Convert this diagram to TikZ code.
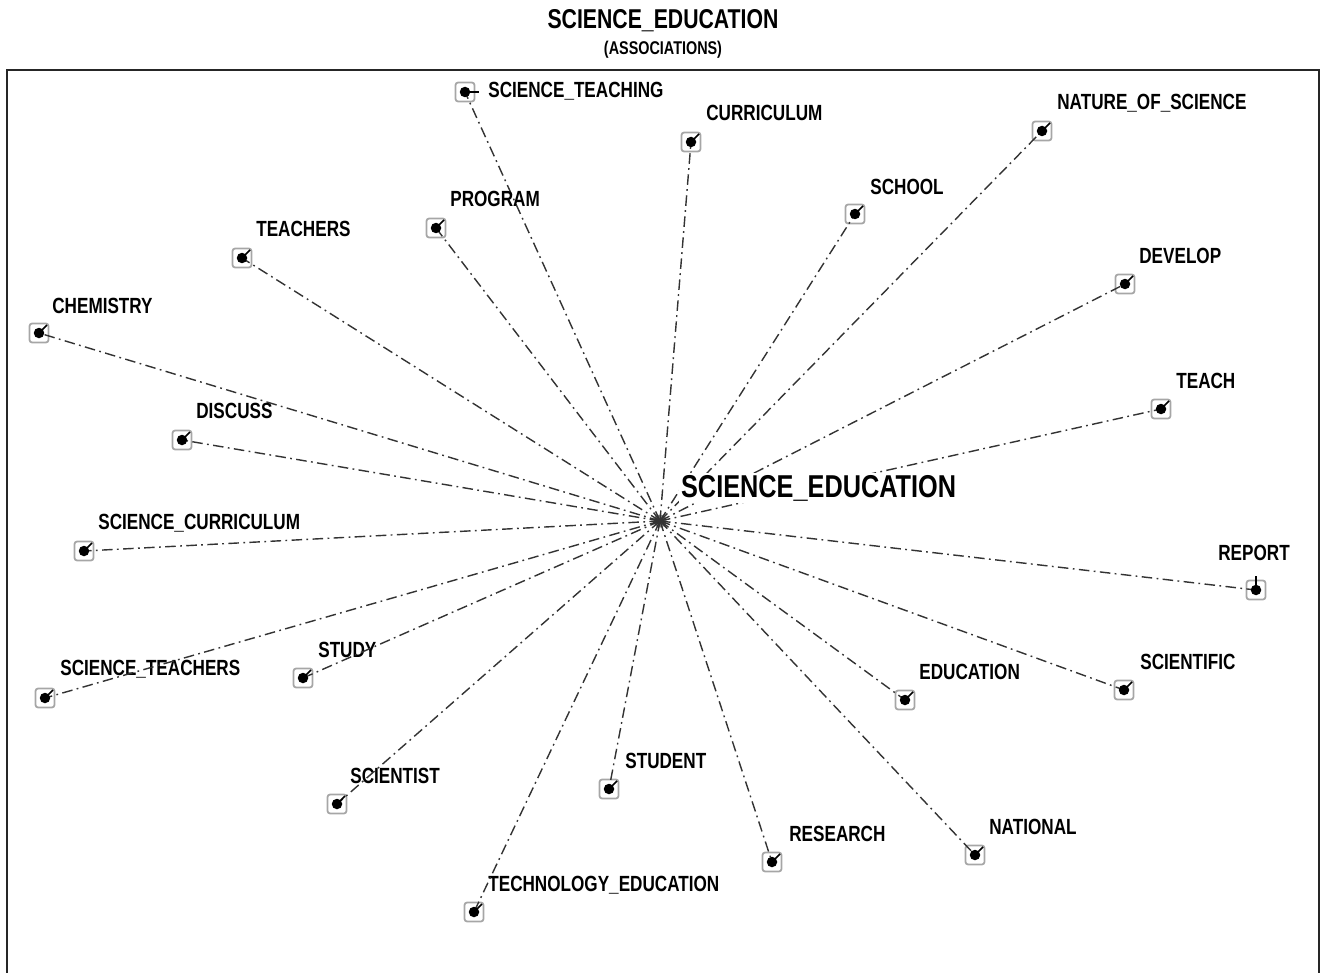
\documentclass[tikz,border=0pt]{standalone}
\usepackage{fontspec}
\newfontfamily\termfont[FakeStretch=0.78]{Liberation Sans}

\begin{document}
\begin{tikzpicture}[x=0.02cm,y=-0.02cm,
  termbox/.style={draw=gray!70, line width=1pt, rounded corners=1.5pt, minimum size=0.38cm, inner sep=0},
  termdot/.style={circle, fill=black, inner sep=0, minimum size=0.21cm},
  termlbl/.style={anchor=west, inner sep=0, font=\termfont\bfseries\fontsize{12.5}{14}\selectfont},
  assoc/.style={line width=0.8pt, black!80, dash pattern=on 6pt off 2.5pt on 1pt off 2.5pt}]
  \useasboundingbox (0,0) rectangle (1321,973);
  % frame and heading
  \draw[line width=1.3pt, black!85] (7,973) -- (7,70) -- (1319,70) -- (1319,973);
  \node[inner sep=0, font=\termfont\bfseries\fontsize{15.5}{17}\selectfont] (title) at (663,21) {SCIENCE\_EDUCATION};
  \node[inner sep=0, font=\termfont\bfseries\fontsize{10.5}{12}\selectfont] (subtitle) at (663,50) {(ASSOCIATIONS)};
  % hub
  \node[circle, fill=gray, inner sep=0, minimum size=0.26cm] (hub) at (660,521) {};
  % associated terms
  \foreach \nm/\px/\py/\lx/\ly/\tx/\ty/\txt in {
      sciteach/465/92/488/91/14/0/SCIENCE\_TEACHING,
      curric/691/142/706/113/8/-8/CURRICULUM,
      nature/1042/131/1057/103/8/-8/NATURE\_OF\_SCIENCE,
      school/855/214/870/187/8/-8/SCHOOL,
      develop/1125/284/1139/256/8/-8/DEVELOP,
      teach/1161/409/1176/381/8/-8/TEACH,
      report/1256/590/1218/553/0/-14/REPORT,
      scientific/1124/690/1140/662/8/-8/SCIENTIFIC,
      education/905/700/919/672/8/-8/EDUCATION,
      national/975/855/989/827/8/-8/NATIONAL,
      research/772/862/789/834/8/-8/RESEARCH,
      student/609/789/625/761/8/-8/STUDENT,
      techedu/474/912/488/885/8/-8/TECHNOLOGY\_EDUCATION,
      scientist/337/804/350/776/8/-8/SCIENTIST,
      sciteachers/45/698/60/669/8/-8/SCIENCE\_TEACHERS,
      study/303/678/318/650/8/-8/STUDY,
      scicurric/84/551/98/523/8/-8/SCIENCE\_CURRICULUM,
      discuss/182/440/196/411/8/-8/DISCUSS,
      chemistry/39/333/52/306/8/-8/CHEMISTRY,
      teachers/242/258/256/229/8/-8/TEACHERS,
      program/436/228/450/199/8/-8/PROGRAM}
  {
    \node[termbox] (\nm) at (\px,\py) {};
    \node[termlbl] (\nm-l) at (\lx,\ly) {\txt};
    \draw[assoc] (hub.center) -- (\nm.center);
    \draw[line width=0.9pt] (\nm.center) -- ++(\tx,\ty);
    \node[termdot] at (\nm.center) {};
  }
  \node[anchor=west, fill=white, inner sep=1pt, font=\termfont\bfseries\fontsize{18}{20}\selectfont] (hublbl) at (679,488) {\addfontfeature{FakeStretch=0.8}SCIENCE\_EDUCATION};
\end{tikzpicture}
\end{document}
